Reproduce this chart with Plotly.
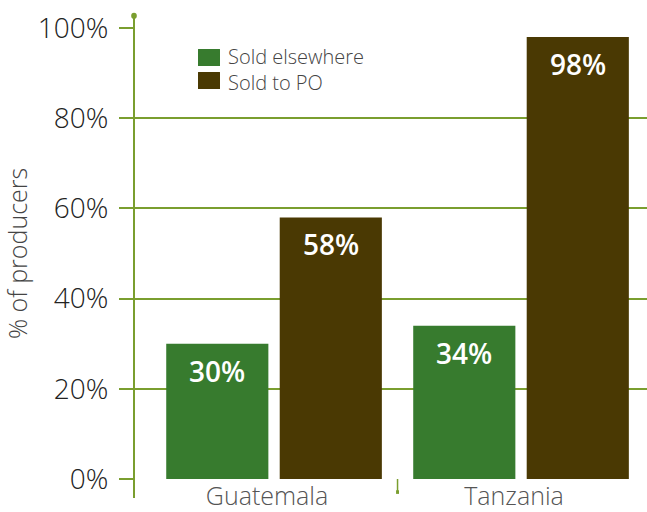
import plotly.graph_objects as go

countries = ["Guatemala", "Tanzania"]
sold_elsewhere = [30, 34]
sold_to_po = [58, 98]
series_names = ["Sold elsewhere", "Sold to PO"]
y_ticks = [0, 20, 40, 60, 80, 100]
y_tick_labels = ["0%", "20%", "40%", "60%", "80%", "100%"]

GREEN = "#377B2E"
BROWN = "#4A3903"
AXIS = "#7A9E2F"
FONT = "Open Sans"
colors = [GREEN, BROWN]

BARGAP = 0.081
fig = go.Figure()
for name, vals, col in zip(series_names, [sold_elsewhere, sold_to_po], colors):
    fig.add_trace(go.Bar(x=countries, y=vals, name=name, showlegend=False,
                         marker=dict(color=col, line=dict(width=0))))

# value labels near the top of each bar
slot = (1 - BARGAP) / 2
for i, c in enumerate(countries):
    for j, vals in enumerate([sold_elsewhere, sold_to_po]):
        xpos = i + (j - 0.5) * slot
        fig.add_annotation(x=xpos, y=vals[i], xref="x", yref="y",
                           text=f"{vals[i]}%", showarrow=False, yshift=-27,
                           font=dict(family=FONT, size=28, color="white", weight=600))

# legend: square swatches plus a two-line label block
legend_rows = [(0.9534, 0.9157), (0.9024, 0.8647)]
for (y1, y0), col in zip(legend_rows, colors):
    fig.add_shape(type="rect", xref="paper", yref="paper", x0=0.1248, x1=0.1676,
                  y0=y0, y1=y1, fillcolor=col, line=dict(width=0))
legend_mid = sum(sum(r) for r in legend_rows) / 4
fig.add_annotation(x=0.1813, y=legend_mid, xref="paper", yref="paper",
                   xanchor="left", yanchor="middle", align="left",
                   text="<br>".join(series_names), showarrow=False, borderpad=0,
                   font=dict(family=FONT, size=20, color="#444", weight=300))

# vertical axis line extending past the plot, with a dot on top
fig.add_shape(type="line", xref="paper", yref="paper", x0=0, x1=0, y0=-0.042, y1=1.027,
              line=dict(color=AXIS, width=2))
fig.add_shape(type="circle", xref="paper", yref="paper", x0=-0.0055, x1=0.0055,
              y0=1.027 - 0.007, y1=1.027 + 0.007, fillcolor=AXIS, line=dict(width=0))
# small divider tick between the two categories
fig.add_shape(type="line", xref="x", yref="paper", x0=0.5, x1=0.5, y0=0, y1=-0.029,
              line=dict(color=AXIS, width=1.5))
fig.add_shape(type="rect", xref="x", yref="paper", x0=0.5 - 0.006, x1=0.5 + 0.006,
              y0=-0.029 - 0.004, y1=-0.029 + 0.004, fillcolor=AXIS, line=dict(width=0))

fig.update_layout(
    width=647, height=512,
    margin=dict(l=134, r=0, t=28, b=33),
    paper_bgcolor="white", plot_bgcolor="white",
    barmode="group", bargap=BARGAP, bargroupgap=0.1,
    font=dict(family=FONT, color="#222"),
    showlegend=False,
    xaxis=dict(range=[-0.567, 1.51], showgrid=False, showline=False, ticks="",
               automargin=False, ticklabelstandoff=0, ticklabelshift=-7,
               tickfont=dict(family=FONT, size=25, color="#555", weight=300), zeroline=False),
    yaxis=dict(range=[0, 100], tickvals=y_ticks, ticktext=y_tick_labels,
               automargin=False,
               showgrid=True, gridcolor=AXIS, gridwidth=1.5, zeroline=False,
               showline=False, ticks="outside", ticklen=14, tickcolor=AXIS, tickwidth=1.5,
               ticklabelstandoff=5,
               tickfont=dict(family=FONT, size=28, color="#222", weight=300),
               title=dict(text="% of producers", standoff=6,
                          font=dict(family=FONT, size=25, color="#444", weight=300))),
)

fig.write_html("out.html")
